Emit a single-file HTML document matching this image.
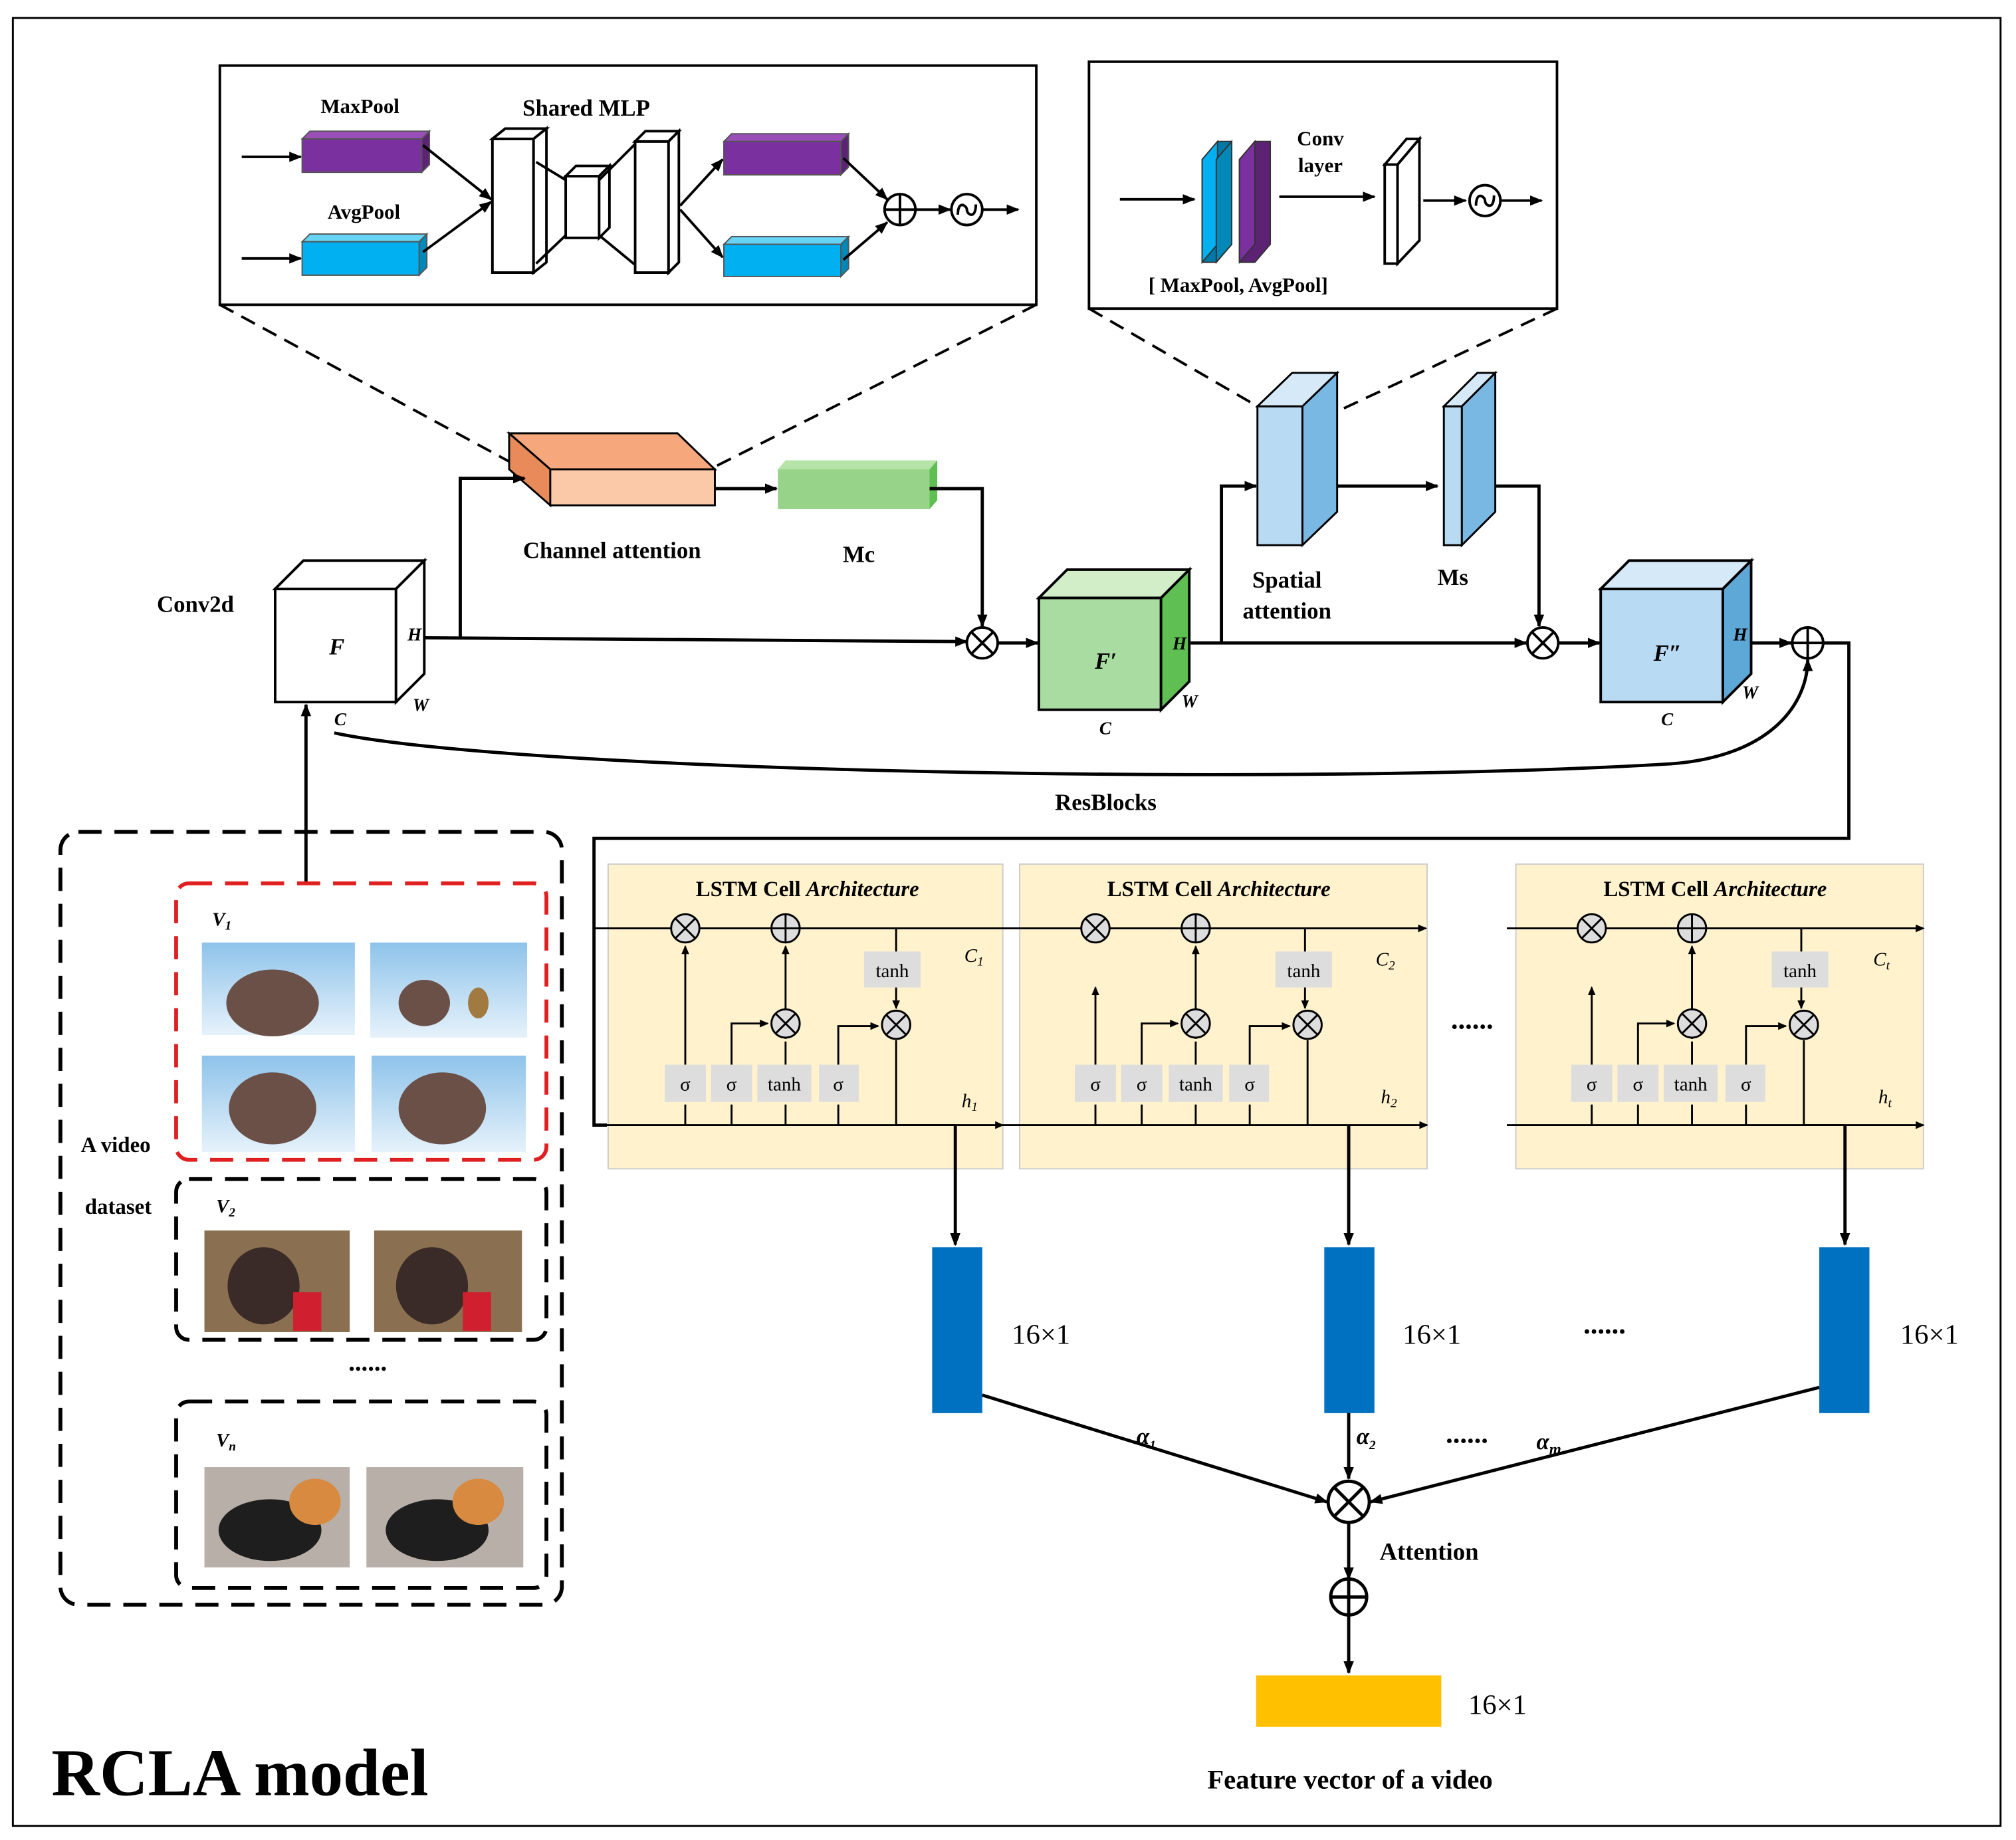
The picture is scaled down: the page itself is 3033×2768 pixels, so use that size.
<!DOCTYPE html>
<html><head><meta charset="utf-8"><style>html,body{margin:0;padding:0;background:#fff}svg{display:block}</style></head><body>
<svg width="3033" height="2768" viewBox="0 0 1568 1431" xmlns="http://www.w3.org/2000/svg" font-family="Liberation Serif, serif" font-weight="bold">
<defs>
<marker id="a" markerWidth="10" markerHeight="8" refX="9" refY="4" orient="auto" markerUnits="userSpaceOnUse"><path d="M0,0 L10,4 L0,8 Z" fill="#000"/></marker>
<marker id="s" markerWidth="7" markerHeight="6" refX="6" refY="3" orient="auto" markerUnits="userSpaceOnUse"><path d="M0,0 L7,3 L0,6 Z" fill="#000"/></marker>
<g id="ot"><circle r="12" fill="#fff" stroke="#000" stroke-width="2"/><path d="M-8.5,-8.5L8.5,8.5M-8.5,8.5L8.5,-8.5" stroke="#000" stroke-width="2"/></g>
<g id="op"><circle r="12" fill="#fff" stroke="#000" stroke-width="2"/><path d="M-12,0H12M0,-12V12" stroke="#000" stroke-width="2"/></g>
<g id="sot"><circle r="11" fill="#ddd" stroke="#000" stroke-width="1.5"/><path d="M-8,-8L8,8M-8,8L8,-8" stroke="#000" stroke-width="1.5"/></g>
<g id="sop"><circle r="11" fill="#ddd" stroke="#000" stroke-width="1.5"/><path d="M-11,0H11M0,-11V11" stroke="#000" stroke-width="1.5"/></g>
</defs>
<rect x="10" y="14" width="1546" height="1406" fill="#fff" stroke="#000" stroke-width="1.5"/>

<rect x="171" y="51" width="635" height="186" fill="#fff" stroke="#000" stroke-width="2"/>
<text x="280" y="88" font-size="16" text-anchor="middle">MaxPool</text>
<text x="283" y="170" font-size="16" text-anchor="middle">AvgPool</text>
<text x="456" y="90" font-size="18" text-anchor="middle">Shared MLP</text>
<g stroke="#000" stroke-width="2" fill="none">
<path d="M188,122H234" marker-end="url(#a)"/><path d="M188,201H234" marker-end="url(#a)"/>
</g>
<g stroke="#555" stroke-width="1">
<path d="M235,108L241,102H334L328,108Z" fill="#9a4fb8"/><path d="M328,108L334,102V128L328,134Z" fill="#5c2375"/><rect x="235" y="108" width="93" height="26" fill="#7b30a0"/>
<path d="M235,188L241,182H332L326,188Z" fill="#66d4f5"/><path d="M326,188L332,182V208L326,214Z" fill="#0088b8"/><rect x="235" y="188" width="91" height="26" fill="#00b0f0"/>
<path d="M563,110L569,104H660L654,110Z" fill="#9a4fb8"/><path d="M654,110L660,104V130L654,136Z" fill="#5c2375"/><rect x="563" y="110" width="91" height="26" fill="#7b30a0"/>
<path d="M563,190L569,184H660L654,190Z" fill="#66d4f5"/><path d="M654,190L660,184V209L654,215Z" fill="#0088b8"/><rect x="563" y="190" width="91" height="25" fill="#00b0f0"/>
</g>
<g stroke="#000" stroke-width="2" fill="#fff">
<path d="M383,108L393,100H415V204L393,212H383Z"/><rect x="383" y="108" width="32" height="104"/><path d="M383,108L393,100H425L415,108Z"/><path d="M415,108L425,100V204L415,212Z"/>
<rect x="440" y="137" width="26" height="48"/><path d="M440,137L448,129H474L466,137Z"/><path d="M466,137L474,129V177L466,185Z"/>
<rect x="494" y="110" width="26" height="102"/><path d="M494,110L502,102H528L520,110Z"/><path d="M520,110L528,102V204L520,212Z"/>
</g>
<g stroke="#000" stroke-width="2" fill="none">
<path d="M329,113L382,155" marker-end="url(#a)"/><path d="M329,196L382,157" marker-end="url(#a)"/>
<path d="M417,126L440,140M417,205L440,183M466,140L494,112M466,183L494,206"/>
<path d="M529,160L562,124" marker-end="url(#a)"/><path d="M529,163L562,200" marker-end="url(#a)"/>
<path d="M656,123L690,155" marker-end="url(#a)"/><path d="M656,202L690,173" marker-end="url(#a)"/>
<path d="M712,163H739" marker-end="url(#a)"/><path d="M764,163H792" marker-end="url(#a)"/>
</g>
<use href="#op" x="700" y="163"/>
<circle cx="752" cy="163" r="12" fill="#fff" stroke="#000" stroke-width="2"/><path d="M745,167C745,155 752,160 752,163C752,167 759,171 759,159" stroke="#000" stroke-width="2" fill="none"/>

<rect x="847" y="48" width="364" height="192" fill="#fff" stroke="#000" stroke-width="2"/>
<g stroke="#000" stroke-width="2" fill="none"><path d="M871,155H929" marker-end="url(#a)"/><path d="M995,153H1069" marker-end="url(#a)"/><path d="M1107,156H1140" marker-end="url(#a)"/><path d="M1168,156H1199" marker-end="url(#a)"/></g>
<g stroke="#333" stroke-width="1">
<path d="M935,124L947,110H958V190L946,204H935Z" fill="#0078a8"/><path d="M935,124L947,110V190L935,204Z" fill="#00b0f0"/><path d="M946,124L958,110V190L946,204Z" fill="#0088b8"/>
<path d="M964,124L976,110H988V190L976,204H964Z" fill="#5c2375"/><path d="M964,124L976,110V190L964,204Z" fill="#7b30a0"/>
</g>
<g stroke="#000" stroke-width="2" fill="#fff"><rect x="1077" y="128" width="10" height="77"/><path d="M1077,128L1094,108H1104L1087,128Z"/><path d="M1087,128L1104,108V187L1087,205Z"/></g>
<circle cx="1155" cy="156" r="12" fill="#fff" stroke="#000" stroke-width="2"/><path d="M1148,160C1148,148 1155,153 1155,156C1155,160 1162,164 1162,152" stroke="#000" stroke-width="2" fill="none"/>
<text x="1027" y="113" font-size="16" text-anchor="middle">Conv</text><text x="1027" y="134" font-size="16" text-anchor="middle">layer</text>
<text x="963" y="227" font-size="16" text-anchor="middle">[ MaxPool, AvgPool]</text>

<g stroke="#000" stroke-width="2" stroke-dasharray="12,7" fill="none">
<path d="M171,237L398,360M806,237L556,363M847,240L978,316M1211,240L1040,320"/>
</g>

<path d="M396,337H527L556,365H428Z" fill="#f6a77b" stroke="#000" stroke-width="1.5"/>
<path d="M396,337L428,365V393L396,365Z" fill="#e88a5a" stroke="#000" stroke-width="1.5"/>
<rect x="428" y="365" width="128" height="28" fill="#fcc9a8" stroke="#000" stroke-width="1.5"/>
<text x="476" y="434" font-size="18" text-anchor="middle">Channel attention</text>
<path d="M605,365L611,358H729L723,365Z" fill="#b6e3a8"/><path d="M723,365L729,358V389L723,396Z" fill="#5fbf52"/><rect x="605" y="365" width="118" height="31" fill="#98d38a"/>
<text x="668" y="437" font-size="18" text-anchor="middle">Mc</text>

<g stroke="#000" stroke-width="2" fill="#fff"><rect x="214" y="458" width="94" height="88"/><path d="M214,458L236,436H330L308,458Z"/><path d="M308,458L330,436V524L308,546Z"/></g>
<text x="262" y="509" font-size="18" font-style="italic" text-anchor="middle">F</text>
<text x="317" y="498" font-size="14" font-style="italic">H</text><text x="321" y="553" font-size="14" font-style="italic">W</text><text x="260" y="564" font-size="14" font-style="italic">C</text>
<text x="152" y="476" font-size="18" text-anchor="middle">Conv2d</text>

<g stroke="#000" stroke-width="2"><rect x="808" y="465" width="95" height="87" fill="#a9dca0"/><path d="M808,465L830,443H925L903,465Z" fill="#d1eec9"/><path d="M903,465L925,443V530L903,552Z" fill="#5fbf52"/></g>
<text x="860" y="520" font-size="18" font-style="italic" text-anchor="middle">F′</text>
<text x="912" y="505" font-size="14" font-style="italic">H</text><text x="919" y="550" font-size="14" font-style="italic">W</text><text x="855" y="571" font-size="14" font-style="italic">C</text>

<g stroke="#000" stroke-width="1.5"><rect x="978" y="316" width="35" height="108" fill="#b8daf2"/><path d="M978,316L1005,290H1040L1013,316Z" fill="#d5e9f8"/><path d="M1013,316L1040,290V398L1013,424Z" fill="#78b8e2"/>
<rect x="1123" y="316" width="14" height="108" fill="#b8daf2"/><path d="M1123,316L1149,290H1163L1137,316Z" fill="#d5e9f8"/><path d="M1137,316L1163,290V398L1137,424Z" fill="#78b8e2"/></g>
<text x="1001" y="457" font-size="18" text-anchor="middle">Spatial</text><text x="1001" y="481" font-size="18" text-anchor="middle">attention</text>
<text x="1130" y="455" font-size="18" text-anchor="middle">Ms</text>

<g stroke="#000" stroke-width="2"><rect x="1245" y="458" width="95" height="88" fill="#b8daf2"/><path d="M1245,458L1267,436H1362L1340,458Z" fill="#d5e9f8"/><path d="M1340,458L1362,436V524L1340,546Z" fill="#5ea8d8"/></g>
<text x="1297" y="514" font-size="18" font-style="italic" text-anchor="middle">F″</text>
<text x="1348" y="498" font-size="14" font-style="italic">H</text><text x="1355" y="543" font-size="14" font-style="italic">W</text><text x="1292" y="564" font-size="14" font-style="italic">C</text>

<g stroke="#000" stroke-width="2.5" fill="none">
<path d="M330,496L752,499" marker-end="url(#a)"/>
<path d="M358,496V372H408" marker-end="url(#a)"/>
<path d="M556,380H604" marker-end="url(#a)"/>
<path d="M723,380H764V487" marker-end="url(#a)"/>
<path d="M776,500H807" marker-end="url(#a)"/>
<path d="M926,500H1187" marker-end="url(#a)"/>
<path d="M950,500V378H977" marker-end="url(#a)"/>
<path d="M1040,378H1118" marker-end="url(#a)"/>
<path d="M1163,378H1197V487" marker-end="url(#a)"/>
<path d="M1212,500H1244" marker-end="url(#a)"/>
<path d="M1362,500H1393" marker-end="url(#a)"/>
<path d="M1418,500H1438V652H462V875H472"/>
<path d="M260,570C400,600 1000,612 1300,594C1380,588 1406,545 1406,513" marker-end="url(#a)"/>
<path d="M238,687V548" marker-end="url(#a)"/>
</g>
<use href="#ot" x="764" y="500"/><use href="#ot" x="1200" y="500"/><use href="#op" x="1406" y="500"/>
<text x="860" y="630" font-size="18" text-anchor="middle">ResBlocks</text>

<rect x="47" y="647" width="390" height="601" rx="14" fill="none" stroke="#000" stroke-width="3" stroke-dasharray="18,10"/>
<rect x="137" y="687" width="288" height="215" rx="10" fill="none" stroke="#e02020" stroke-width="3" stroke-dasharray="18,10"/>
<rect x="137" y="917" width="288" height="125" rx="10" fill="none" stroke="#000" stroke-width="3" stroke-dasharray="18,10"/>
<rect x="137" y="1090" width="288" height="145" rx="10" fill="none" stroke="#000" stroke-width="3" stroke-dasharray="18,10"/>
<text x="165" y="720" font-size="15" font-style="italic">V<tspan font-size="10" dy="3">1</tspan></text>
<text x="168" y="943" font-size="15" font-style="italic">V<tspan font-size="10" dy="3">2</tspan></text>
<text x="168" y="1125" font-size="15" font-style="italic">V<tspan font-size="10" dy="3">n</tspan></text>
<text x="90" y="896" font-size="17" text-anchor="middle">A video</text><text x="92" y="944" font-size="17" text-anchor="middle">dataset</text>
<text x="286" y="1066" font-size="20" text-anchor="middle">......</text>
<defs><linearGradient id="sky" x1="0" y1="0" x2="0" y2="1"><stop offset="0" stop-color="#8ec3ea"/><stop offset="1" stop-color="#e6f2fb"/></linearGradient></defs>
<g>
<rect x="157" y="733" width="119" height="72" fill="url(#sky)"/><ellipse cx="212" cy="780" rx="36" ry="26" fill="#6b5048"/>
<rect x="288" y="733" width="122" height="74" fill="url(#sky)"/><ellipse cx="330" cy="780" rx="20" ry="18" fill="#6b5048"/><ellipse cx="372" cy="780" rx="8" ry="12" fill="#a07a40"/>
<rect x="157" y="821" width="119" height="75" fill="url(#sky)"/><ellipse cx="212" cy="862" rx="34" ry="28" fill="#6b5048"/>
<rect x="289" y="821" width="120" height="75" fill="url(#sky)"/><ellipse cx="344" cy="862" rx="34" ry="28" fill="#6b5048"/>
<rect x="159" y="957" width="113" height="79" fill="#8a7050"/><ellipse cx="205" cy="1000" rx="28" ry="30" fill="#3a2a28"/><rect x="228" y="1005" width="22" height="30" fill="#d02030"/>
<rect x="291" y="957" width="115" height="79" fill="#8a7050"/><ellipse cx="336" cy="1000" rx="28" ry="30" fill="#3a2a28"/><rect x="360" y="1005" width="22" height="30" fill="#d02030"/>
<rect x="159" y="1141" width="113" height="78" fill="#b8b0a8"/><ellipse cx="210" cy="1190" rx="40" ry="24" fill="#1e1e1e"/><ellipse cx="245" cy="1168" rx="20" ry="18" fill="#d88a40"/>
<rect x="285" y="1141" width="122" height="78" fill="#b8b0a8"/><ellipse cx="340" cy="1190" rx="40" ry="24" fill="#1e1e1e"/><ellipse cx="372" cy="1168" rx="20" ry="18" fill="#d88a40"/>
</g>

<g fill="#fff2cc" stroke="#ccc" stroke-width="1">
<rect x="473" y="672" width="307" height="237"/><rect x="793" y="672" width="317" height="237"/><rect x="1179" y="672" width="317" height="237"/>
</g>
<text x="628" y="697" font-size="17" text-anchor="middle">LSTM Cell <tspan font-style="italic">Architecture</tspan></text>
<text x="948" y="697" font-size="17" text-anchor="middle">LSTM Cell <tspan font-style="italic">Architecture</tspan></text>
<text x="1334" y="697" font-size="17" text-anchor="middle">LSTM Cell <tspan font-style="italic">Architecture</tspan></text>

<g stroke="#000" stroke-width="1.5" fill="none">
<path d="M463,722H1109" marker-end="url(#s)"/>
<path d="M462,875H780" marker-end="url(#s)"/>
<path d="M697,722V747M697,768V784" marker-end="url(#s)"/>
<path d="M533,828V736" marker-end="url(#s)"/><path d="M611,808V736" marker-end="url(#s)"/>
<path d="M569,828V796H597" marker-end="url(#s)"/><path d="M611,828V810"/>
<path d="M652,828V798H683" marker-end="url(#s)"/>
<path d="M697,809V875H743V968" marker-end="url(#s)"/>
<path d="M533,875V859M569,875V859M611,875V859M652,875V859"/>
<path d="M780,875H1110" marker-end="url(#s)"/>
<path d="M1015,722V747M1015,768V784" marker-end="url(#s)"/>
<path d="M852,828V768" marker-end="url(#s)"/><path d="M930,808V736" marker-end="url(#s)"/>
<path d="M888,828V796H916" marker-end="url(#s)"/><path d="M930,828V810"/>
<path d="M972,828V798H1003" marker-end="url(#s)"/>
<path d="M1017,809V875"/><path d="M1049,875V968" stroke-width="2.5" marker-end="url(#a)"/>
<path d="M852,875V859M888,875V859M930,875V859M972,875V859"/>
<path d="M1172,722H1496" marker-end="url(#s)"/>
<path d="M1172,875H1496" marker-end="url(#s)"/>
<path d="M1401,722V747M1401,768V784" marker-end="url(#s)"/>
<path d="M1238,828V768" marker-end="url(#s)"/><path d="M1316,808V736" marker-end="url(#s)"/>
<path d="M1274,828V796H1302" marker-end="url(#s)"/><path d="M1316,828V810"/>
<path d="M1358,828V798H1389" marker-end="url(#s)"/>
<path d="M1403,809V875H1435"/><path d="M1435,875V968" stroke-width="2.5" marker-end="url(#a)"/>
<path d="M1238,875V859M1274,875V859M1316,875V859M1358,875V859"/>
</g>
<path d="M743,875V968" stroke="#000" stroke-width="2.5" marker-end="url(#a)"/>

<g font-family="Liberation Serif, serif" font-weight="normal" font-size="15" text-anchor="middle">
<g fill="#ddd"><rect x="672" y="740" width="44" height="28"/><rect x="517" y="828" width="32" height="29"/><rect x="553" y="828" width="32" height="29"/><rect x="589" y="828" width="42" height="29"/><rect x="637" y="828" width="31" height="29"/>
<rect x="992" y="740" width="44" height="28"/><rect x="836" y="828" width="32" height="29"/><rect x="872" y="828" width="32" height="29"/><rect x="909" y="828" width="42" height="29"/><rect x="956" y="828" width="31" height="29"/>
<rect x="1378" y="740" width="44" height="28"/><rect x="1222" y="828" width="32" height="29"/><rect x="1258" y="828" width="32" height="29"/><rect x="1294" y="828" width="42" height="29"/><rect x="1342" y="828" width="31" height="29"/></g>
<text x="694" y="760">tanh</text><text x="533" y="848">σ</text><text x="569" y="848">σ</text><text x="610" y="848">tanh</text><text x="652" y="848">σ</text>
<text x="1014" y="760">tanh</text><text x="852" y="848">σ</text><text x="888" y="848">σ</text><text x="930" y="848">tanh</text><text x="972" y="848">σ</text>
<text x="1400" y="760">tanh</text><text x="1238" y="848">σ</text><text x="1274" y="848">σ</text><text x="1315" y="848">tanh</text><text x="1358" y="848">σ</text>
</g>
<use href="#sot" x="533" y="722"/><use href="#sop" x="611" y="722"/><use href="#sot" x="611" y="796"/><use href="#sot" x="697" y="797"/>
<use href="#sot" x="852" y="722"/><use href="#sop" x="930" y="722"/><use href="#sot" x="930" y="796"/><use href="#sot" x="1017" y="797"/>
<use href="#sot" x="1238" y="722"/><use href="#sop" x="1316" y="722"/><use href="#sot" x="1316" y="796"/><use href="#sot" x="1403" y="797"/>
<g font-weight="normal" font-style="italic" font-size="15">
<text x="750" y="748">C<tspan font-size="10" dy="3">1</tspan></text><text x="1070" y="751">C<tspan font-size="10" dy="3">2</tspan></text><text x="1457" y="751">C<tspan font-size="10" dy="3">t</tspan></text>
<text x="748" y="861">h<tspan font-size="10" dy="3">1</tspan></text><text x="1074" y="858">h<tspan font-size="10" dy="3">2</tspan></text><text x="1461" y="858">h<tspan font-size="10" dy="3">t</tspan></text>
</g>
<text x="1145" y="800" font-size="22" text-anchor="middle">......</text>

<g fill="#0070c0"><rect x="725" y="970" width="39" height="129"/><rect x="1030" y="970" width="39" height="129"/><rect x="1415" y="970" width="39" height="129"/></g>
<g font-size="22" font-weight="normal"><text x="787" y="1045">16×1</text><text x="1091" y="1045">16×1</text><text x="1478" y="1045">16×1</text></g>
<text x="1248" y="1037" font-size="22" text-anchor="middle">......</text>
<text x="1141" y="1122" font-size="22" text-anchor="middle">......</text>
<g stroke="#000" stroke-width="2.5" fill="none">
<path d="M764,1085L1032,1168" marker-end="url(#a)"/><path d="M1049,1099V1150" marker-end="url(#a)"/><path d="M1415,1079L1066,1168" marker-end="url(#a)"/>
<path d="M1049,1185V1228" marker-end="url(#a)"/><path d="M1049,1255V1301" marker-end="url(#a)"/>
</g>
<circle cx="1049" cy="1168" r="16" fill="#fff" stroke="#000" stroke-width="2.5"/><path d="M1038,1157L1060,1179M1038,1179L1060,1157" stroke="#000" stroke-width="2.5"/>
<circle cx="1049" cy="1242" r="14" fill="#fff" stroke="#000" stroke-width="2.5"/><path d="M1035,1242H1063M1049,1228V1256" stroke="#000" stroke-width="2.5"/>
<g font-size="18" font-style="italic"><text x="884" y="1123">α<tspan font-size="10" dy="4">1</tspan></text><text x="1055" y="1123">α<tspan font-size="10" dy="4">2</tspan></text><text x="1195" y="1127">α<tspan font-size="12" dy="4">m</tspan></text></g>
<text x="1073" y="1213" font-size="19">Attention</text>
<rect x="977" y="1303" width="144" height="40" fill="#ffc000"/>
<text x="1142" y="1333" font-size="22" font-weight="normal">16×1</text>
<text x="1050" y="1391" font-size="21" text-anchor="middle">Feature vector of a video</text>
<text x="40" y="1396" font-size="52">RCLA model</text>
</svg>
</body></html>
